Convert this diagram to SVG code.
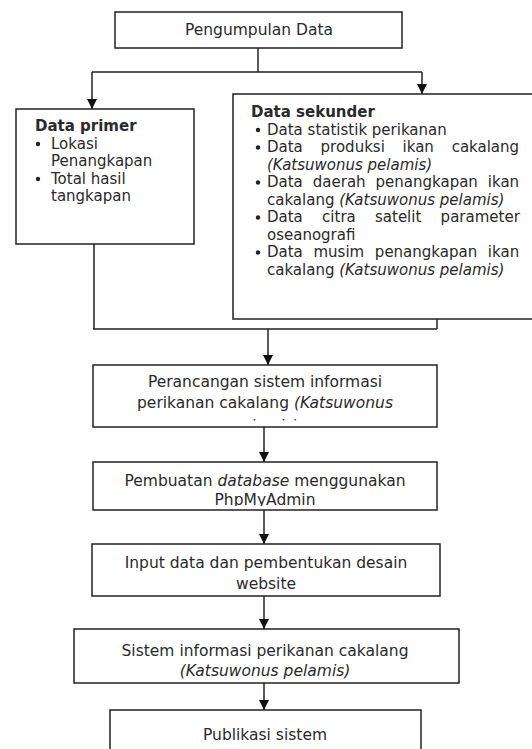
<svg xmlns="http://www.w3.org/2000/svg" width="532" height="749" viewBox="0 0 532 749">
<style>
text{font-family:"DejaVu Sans","Verdana",sans-serif;font-size:15px;fill:#2a2a2a}
.m{font-size:15.5px}
.c{text-anchor:middle}
.b{font-weight:bold}
.i{font-style:italic}
.box{fill:#fff;stroke:#222;stroke-width:1.5}
.ln{fill:none;stroke:#222;stroke-width:1.5}
.dot{fill:#222}
</style>
<defs>
<marker id="ah" markerUnits="userSpaceOnUse" markerWidth="10" markerHeight="10" refX="10" refY="5" orient="auto">
<path d="M0,0 L10,5 L0,10 z" fill="#111"/>
</marker>
<clipPath id="clipA"><rect x="94" y="366" width="342" height="54.5"/></clipPath>
<clipPath id="clipB"><rect x="94" y="463" width="342" height="43"/></clipPath>
</defs>
<g id="connectors">
<path class="ln" d="M258,48 V72 M92,72 H422"/>
<path class="ln" d="M92,72 V109" marker-end="url(#ah)"/>
<path class="ln" d="M422,72 V94" marker-end="url(#ah)"/>
<path class="ln" d="M94,244 V329 M437,319 V329 M93,329 H437"/>
<path class="ln" d="M268,329 V365" marker-end="url(#ah)"/>
<path class="ln" d="M264,427 V462" marker-end="url(#ah)"/>
<path class="ln" d="M264,510 V544" marker-end="url(#ah)"/>
<path class="ln" d="M264,596 V629" marker-end="url(#ah)"/>
<path class="ln" d="M264,683 V710" marker-end="url(#ah)"/>
</g>
<g id="pengumpulan">
<rect class="box" x="115" y="12" width="287" height="36"/>
<text class="c m" x="259" y="35">Pengumpulan Data</text>
</g>
<g id="primer">
<rect class="box" x="16" y="109" width="178" height="135"/>
<text class="b" x="35" y="131">Data primer</text>
<circle class="dot" cx="38" cy="144" r="2.2"/>
<text x="51" y="148.5">Lokasi</text>
<text x="51" y="166">Penangkapan</text>
<circle class="dot" cx="38" cy="179" r="2.2"/>
<text x="51" y="183.5">Total hasil</text>
<text x="51" y="201">tangkapan</text>
</g>
<g id="sekunder">
<rect class="box" x="233" y="94" width="301" height="225"/>
<text class="b" x="251" y="117">Data sekunder</text>
<circle class="dot" cx="258" cy="130" r="2.2"/>
<text x="267" y="134.5">Data statistik perikanan</text>
<circle class="dot" cx="258" cy="147.5" r="2.2"/>
<text x="267" y="152" word-spacing="13">Data produksi ikan cakalang</text>
<text class="i" x="267" y="169.5">(Katsuwonus pelamis)</text>
<circle class="dot" cx="258" cy="182.5" r="2.2"/>
<text x="267" y="187" word-spacing="5.2">Data daerah penangkapan ikan</text>
<text x="267" y="204.5">cakalang <tspan class="i">(Katsuwonus pelamis)</tspan></text>
<circle class="dot" cx="258" cy="217.5" r="2.2"/>
<text x="267" y="222" word-spacing="14.5">Data citra satelit parameter</text>
<text x="267" y="239.5">oseanografi</text>
<circle class="dot" cx="258" cy="252.5" r="2.2"/>
<text x="267" y="257" word-spacing="5.9">Data musim penangkapan ikan</text>
<text x="267" y="274.5">cakalang <tspan class="i">(Katsuwonus pelamis)</tspan></text>
</g>
<g id="perancangan">
<rect class="box" x="93" y="365" width="344" height="62"/>
<g clip-path="url(#clipA)">
<text class="c m" x="265" y="387">Perancangan sistem informasi</text>
<text class="c m" x="265" y="408">perikanan cakalang <tspan class="i">(Katsuwonus</tspan></text>
<text class="c m i" x="265" y="430.5">pelamis)</text>
</g>
</g>
<g id="pembuatan">
<rect class="box" x="93" y="462" width="344" height="48"/>
<g clip-path="url(#clipB)">
<text class="c m" x="265" y="486">Pembuatan <tspan class="i">database</tspan> menggunakan</text>
<text class="c m" x="265" y="505">PhpMyAdmin</text>
</g>
</g>
<g id="input">
<rect class="box" x="92" y="544" width="348" height="52"/>
<text class="c m" x="266" y="568">Input data dan pembentukan desain</text>
<text class="c m" x="266" y="589">website</text>
</g>
<g id="sistem">
<rect class="box" x="74" y="629" width="385" height="54"/>
<text class="c m" x="265" y="656">Sistem informasi perikanan cakalang</text>
<text class="c m i" x="265" y="676">(Katsuwonus pelamis)</text>
</g>
<g id="publikasi">
<rect class="box" x="110" y="710" width="311" height="50"/>
<text class="c m" x="265" y="740">Publikasi sistem</text>
</g>
</svg>
